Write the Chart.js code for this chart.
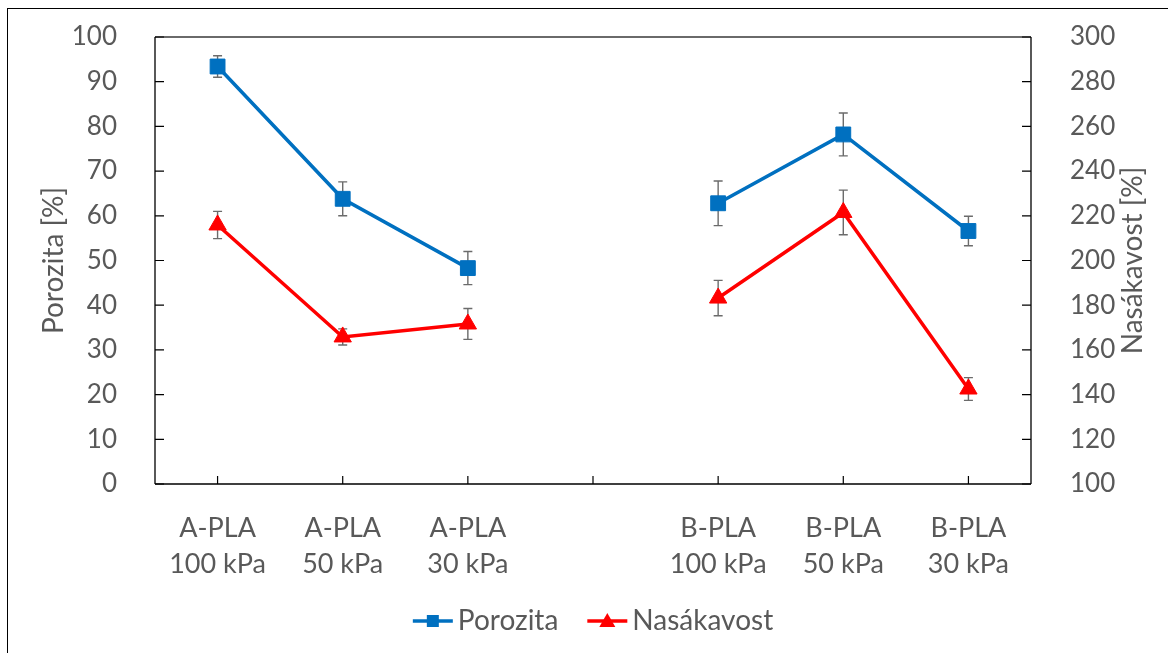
<!DOCTYPE html>
<html>
<head>
<meta charset="utf-8">
<script src="https://cdn.jsdelivr.net/npm/chart.js@4/dist/chart.umd.min.js"></script>
<style>
  html, body { margin: 0; padding: 0; background: #fff; }
  #wrap { position: relative; width: 1168px; height: 653px; overflow: hidden; }
  #wrap canvas { position: absolute; left: 0; top: 0; }
  #frame { position: absolute; left: 7px; top: 8px; width: 1300px; height: 800px;
           border-left: 1px solid #000; border-top: 1px solid #000; pointer-events: none; }
</style>
</head>
<body>
<div id="wrap">
  <canvas id="c" width="1168" height="653"></canvas>
  <div id="frame"></div>
</div>
<script>
// Sample groups (middle slot left empty to separate A and B series)
const categories = [
  ['A-PLA', '100 kPa'], ['A-PLA', '50 kPa'], ['A-PLA', '30 kPa'],
  '',
  ['B-PLA', '100 kPa'], ['B-PLA', '50 kPa'], ['B-PLA', '30 kPa']
];

// Porosity [%] (left axis) with standard deviations
const porozita    = [93.4, 63.8, 48.3, null, 62.8, 78.2, 56.6];
const porozitaErr = [2.4, 3.8, 3.7, null, 5.0, 4.8, 3.3];

// Water absorption [%] (right axis) with standard deviations
const nasakavost    = [215.9, 165.8, 171.6, null, 183.2, 221.5, 142.5];
const nasakavostErr = [6.1, 3.6, 6.9, null, 7.9, 10.0, 5.1];

// Axis ranges
const leftRange  = { min: 0, max: 100, step: 10 };
const rightRange = { min: 100, max: 300, step: 20 };

const seriesNames = ['Porozita', 'Nasákavost'];
const axisTitles  = ['Porozita [%]', 'Nasákavost [%]'];

const TEXT = '#595959';
const FONT = 'Lato, "Open Sans", sans-serif';
const BLUE = '#0070C0';
const RED  = '#FF0000';

Chart.defaults.font.family = FONT;
Chart.defaults.font.size = 26;
Chart.defaults.color = TEXT;

// Error bars, inward tick marks, frame lines, titles and legend
const decorations = {
  id: 'decorations',
  beforeDatasetsDraw(chart) {
    const ctx = chart.ctx;
    const a = chart.chartArea;
    const yL = chart.scales.y, yR = chart.scales.y2, x = chart.scales.x;

    ctx.save();
    // top edge of plot area
    ctx.strokeStyle = '#6a6a6a';
    ctx.lineWidth = 2;
    ctx.beginPath(); ctx.moveTo(a.left, a.top); ctx.lineTo(a.right, a.top); ctx.stroke();

    ctx.strokeStyle = '#000';
    ctx.lineWidth = 1.3;
    ctx.beginPath();
    ctx.moveTo(a.left, a.top); ctx.lineTo(a.left, a.bottom);
    ctx.moveTo(a.right, a.top); ctx.lineTo(a.right, a.bottom);
    ctx.moveTo(a.left, a.bottom); ctx.lineTo(a.right, a.bottom);
    ctx.stroke();

    // inward tick marks
    ctx.lineWidth = 1.2;
    ctx.beginPath();
    yL.ticks.forEach((t, i) => { const p = yL.getPixelForTick(i); ctx.moveTo(a.left, p); ctx.lineTo(a.left + 9, p); });
    yR.ticks.forEach((t, i) => { const p = yR.getPixelForTick(i); ctx.moveTo(a.right, p); ctx.lineTo(a.right - 9, p); });
    x.ticks.forEach((t, i) => { const p = x.getPixelForTick(i); ctx.moveTo(p, a.bottom); ctx.lineTo(p, a.bottom - 8); });
    ctx.stroke();

    // error bars
    ctx.strokeStyle = '#6b6b6b';
    ctx.lineWidth = 1.4;
    chart.data.datasets.forEach((ds, di) => {
      const meta = chart.getDatasetMeta(di);
      const sc = chart.scales[ds.yAxisID];
      ds.errors.forEach((e, i) => {
        const v = ds.data[i];
        if (v == null || e == null) return;
        const px = meta.data[i].x;
        const yTop = sc.getPixelForValue(v + e);
        const yBot = sc.getPixelForValue(v - e);
        ctx.beginPath();
        ctx.moveTo(px, yTop); ctx.lineTo(px, yBot);
        ctx.moveTo(px - 4.5, yTop); ctx.lineTo(px + 4.5, yTop);
        ctx.moveTo(px - 4.5, yBot); ctx.lineTo(px + 4.5, yBot);
        ctx.stroke();
      });
    });
    ctx.restore();
  },
  afterDraw(chart) {
    const ctx = chart.ctx;
    const a = chart.chartArea;
    ctx.save();
    ctx.fillStyle = TEXT;
    ctx.font = '28px ' + FONT;
    ctx.textAlign = 'center';
    ctx.textBaseline = 'middle';

    // axis titles, both reading bottom-to-top
    const midY = (a.top + a.bottom) / 2;
    [[54, axisTitles[0]], [1133, axisTitles[1]]].forEach(([tx, label]) => {
      ctx.save();
      ctx.translate(tx, midY);
      ctx.rotate(-Math.PI / 2);
      ctx.fillText(label, 0, 0);
      ctx.restore();
    });

    // legend: line with marker, then the name
    const lineLen = 40, gapText = 5, gapItem = 29;
    const items = chart.data.datasets.map((ds, i) => ({
      ds, name: seriesNames[i], w: lineLen + gapText + ctx.measureText(seriesNames[i]).width
    }));
    const total = items.reduce((s, it) => s + it.w, 0) + gapItem * (items.length - 1);
    let lx = (a.left + a.right) / 2 - total / 2;
    const ly = 621;
    ctx.textAlign = 'left';
    items.forEach(it => {
      ctx.strokeStyle = it.ds.borderColor;
      ctx.lineWidth = 3.5;
      ctx.beginPath(); ctx.moveTo(lx, ly); ctx.lineTo(lx + lineLen, ly); ctx.stroke();
      ctx.fillStyle = it.ds.borderColor;
      const cx = lx + lineLen / 2;
      if (it.ds.pointStyle === 'rect') {
        ctx.fillRect(cx - 6, ly - 6, 12, 12);
      } else {
        ctx.beginPath();
        ctx.moveTo(cx, ly - 8); ctx.lineTo(cx + 8, ly + 6); ctx.lineTo(cx - 8, ly + 6);
        ctx.closePath(); ctx.fill();
      }
      ctx.fillStyle = TEXT;
      ctx.fillText(it.name, lx + lineLen + gapText, ly);
      lx += it.w + gapItem;
    });
    ctx.restore();
  }
};

// Vertical axes: fixed width, no extra top/bottom reservation for labels
function fitVertical(width) {
  return s => { s.width = width; s.paddingTop = 0; s.paddingBottom = 0; };
}

new Chart(document.getElementById('c'), {
  type: 'line',
  data: {
    labels: categories,
    datasets: [
      {
        label: seriesNames[0], data: porozita, errors: porozitaErr, yAxisID: 'y',
        borderColor: BLUE, backgroundColor: BLUE, borderWidth: 3.5,
        pointStyle: 'rect', pointRadius: 10.5, pointBorderWidth: 1,
        pointBackgroundColor: BLUE, pointBorderColor: BLUE, spanGaps: false
      },
      {
        label: seriesNames[1], data: nasakavost, errors: nasakavostErr, yAxisID: 'y2',
        borderColor: RED, backgroundColor: RED, borderWidth: 3.5,
        pointStyle: 'triangle', pointRadius: 10, pointBorderWidth: 1,
        pointBackgroundColor: RED, pointBorderColor: RED, spanGaps: false
      }
    ]
  },
  options: {
    responsive: false,
    animation: false,
    events: [],
    layout: { padding: { top: 37, left: 0, right: 0, bottom: 0 } },
    plugins: { legend: { display: false }, tooltip: { enabled: false } },
    scales: {
      x: {
        type: 'category',
        offset: true,
        grid: { display: false, offset: false },
        border: { display: false },
        ticks: { padding: 18, maxRotation: 0, autoSkip: false, font: { size: 27, lineHeight: 1.35 } },
        afterFit(s) { s.height = 653 - 484; }
      },
      y: {
        position: 'left',
        min: leftRange.min, max: leftRange.max,
        grid: { display: false },
        border: { display: false },
        ticks: { stepSize: leftRange.step, padding: 30 },
        afterFit: fitVertical(155)
      },
      y2: {
        position: 'right',
        min: rightRange.min, max: rightRange.max,
        grid: { display: false },
        border: { display: false },
        ticks: { stepSize: rightRange.step, padding: 31 },
        afterFit: fitVertical(1168 - 1031)
      }
    }
  },
  plugins: [decorations]
});
</script>
</body>
</html>
